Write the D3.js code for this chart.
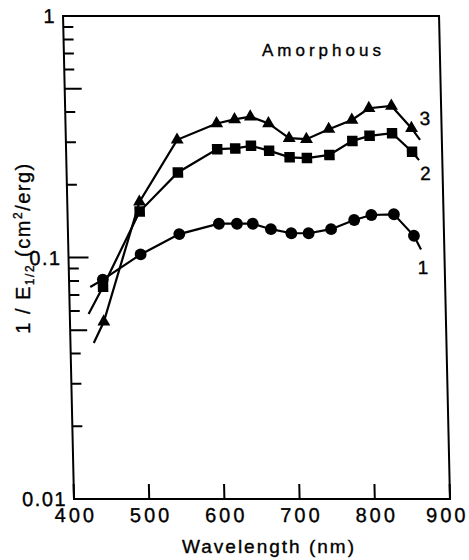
<!DOCTYPE html>
<html>
<head>
<meta charset="utf-8">
<script src="https://cdn.jsdelivr.net/npm/d3@7"></script>
<style>
  html, body { margin: 0; padding: 0; background: #fff; }
  svg { display: block; font-family: "Liberation Sans", Arial, Helvetica, sans-serif; }
  svg text { stroke: #000; stroke-width: 0.35px; fill: #000; }
</style>
</head>
<body>
<svg id="chart" width="469" height="560"></svg>
<script>
// ---- data ----
const wavelengths = [445, 496, 548, 601, 625, 646, 670, 697, 720, 750, 781, 804, 834, 860];
const series1 = [0.081, 0.103, 0.125, 0.138, 0.138, 0.138, 0.131, 0.126, 0.126, 0.131, 0.143, 0.150, 0.151, 0.123]; // circles
const series2 = [0.0757, 0.155, 0.225, 0.281, 0.283, 0.290, 0.277, 0.260, 0.258, 0.266, 0.304, 0.319, 0.327, 0.274]; // squares
const series3 = [0.0542, 0.170, 0.307, 0.359, 0.373, 0.383, 0.359, 0.312, 0.309, 0.340, 0.371, 0.415, 0.424, 0.343]; // triangles
// fitted-line continuation beyond the measured points: [start, end]
const extWavelengths1 = [428, 869];
const extValues1 = [0.0755, 0.108];
const extWavelengths2 = [425, 869];
const extValues2 = [0.0583, 0.253];
const extWavelengths3 = [431, 871];
const extValues3 = [0.0443, 0.307];
const seriesLabels = ["1", "2", "3"];
const labelWavelengths = [871, 877, 878];
const labelValues = [0.0914, 0.224, 0.378];
const xTicks = [400, 500, 600, 700, 800, 900];
const yTickLabels = [0.01, 0.1, 1];
const yTickText = ["0.01", "0.1", "1"];
const xTitle = "Wavelength (nm)";
const annotation = "Amorphous";

// ---- layout ----
const svg = d3.select("#chart");
const W = 376, H = 483;
const x = d3.scaleLinear().domain([400, 900]).range([0, W]);
const y = d3.scaleLog().domain([0.01, 1]).range([0, -H]);

// the scanned figure is slightly sheared; reproduce with skewX
const g = svg.append("g").attr("transform", "translate(74,499) skewX(1.3)");

// frame
g.append("rect")
  .attr("x", 0).attr("y", -H).attr("width", W).attr("height", H)
  .attr("fill", "none").attr("stroke", "#000").attr("stroke-width", 2);

// y ticks (inward)
const yt = y.ticks();
g.selectAll("line.ytick").data(yt).enter().append("line")
  .attr("class", "ytick")
  .attr("x1", 0).attr("y1", d => y(d))
  .attr("x2", d => {
    const m = Math.round(d / Math.pow(10, Math.floor(Math.log10(d) + 1e-9)));
    return m === 1 ? 20 : (m === 5 ? 17 : 10);
  })
  .attr("y2", d => y(d))
  .attr("stroke", "#000").attr("stroke-width", 2);

g.selectAll("text.ylab").data(yTickLabels).enter().append("text")
  .attr("class", "ylab")
  .attr("x", -7).attr("y", d => y(d)).attr("dy", "0.36em")
  .attr("text-anchor", "end")
  .attr("font-size", 20).attr("letter-spacing", 1.5)
  .text((d, i) => yTickText[i]);

// x ticks (inward, upward)
g.selectAll("line.xtick").data(xTicks).enter().append("line")
  .attr("class", "xtick")
  .attr("x1", d => x(d)).attr("x2", d => x(d))
  .attr("y1", 0).attr("y2", -15)
  .attr("stroke", "#000").attr("stroke-width", 2);

g.selectAll("text.xlab").data(xTicks).enter().append("text")
  .attr("class", "xlab")
  .attr("x", (d, i) => x(d) + (i === xTicks.length - 1 ? -3 : 1.5)).attr("y", 23.5)
  .attr("text-anchor", "middle")
  .attr("font-size", 20).attr("letter-spacing", 3)
  .text(d => d);

// series
const line = d3.line().x(d => x(d[0])).y(d => y(d[1]));
const allSeries = [
  { vals: series1, ew: extWavelengths1, ev: extValues1, sym: d3.symbolCircle, size: 110 },
  { vals: series2, ew: extWavelengths2, ev: extValues2, sym: d3.symbolSquare, size: 110 },
  { vals: series3, ew: extWavelengths3, ev: extValues3, sym: d3.symbolTriangle, size: 72 }
];

allSeries.forEach(s => {
  const pts = [[s.ew[0], s.ev[0]]]
    .concat(wavelengths.map((w, i) => [w, s.vals[i]]))
    .concat([[s.ew[1], s.ev[1]]]);
  g.append("path").attr("d", line(pts))
    .attr("fill", "none").attr("stroke", "#000").attr("stroke-width", 2.2);
  g.selectAll(null).data(wavelengths.map((w, i) => [w, s.vals[i]])).enter()
    .append("path")
    .attr("d", d3.symbol().type(s.sym).size(s.size))
    .attr("transform", d => `translate(${x(d[0])},${y(d[1])})`)
    .attr("fill", "#000");
});

// series number labels
g.selectAll("text.slab").data(seriesLabels).enter().append("text")
  .attr("class", "slab")
  .attr("x", (d, i) => x(labelWavelengths[i]))
  .attr("y", (d, i) => y(labelValues[i]))
  .attr("dy", "0.36em")
  .attr("text-anchor", "middle")
  .attr("font-size", 19)
  .text(d => d);

// annotation
svg.append("text")
  .attr("x", 262).attr("y", 55.5)
  .attr("font-size", 17).attr("letter-spacing", 4)
  .text(annotation);

// x title
svg.append("text")
  .attr("x", 269).attr("y", 553)
  .attr("text-anchor", "middle")
  .attr("font-size", 19).attr("letter-spacing", 2)
  .text(xTitle);

// y title
const yt2 = svg.append("text")
  .attr("transform", "translate(30,248) rotate(-90)")
  .attr("text-anchor", "middle")
  .attr("font-size", 20).attr("letter-spacing", 1.5);
yt2.append("tspan").text("1 / E");
yt2.append("tspan").attr("dy", 4).attr("font-size", 12).text("1/2");
yt2.append("tspan").attr("dy", -4).text(" (cm");
yt2.append("tspan").attr("dy", -8).attr("font-size", 12).text("2");
yt2.append("tspan").attr("dy", 8).text("/erg)");
</script>
</body>
</html>
